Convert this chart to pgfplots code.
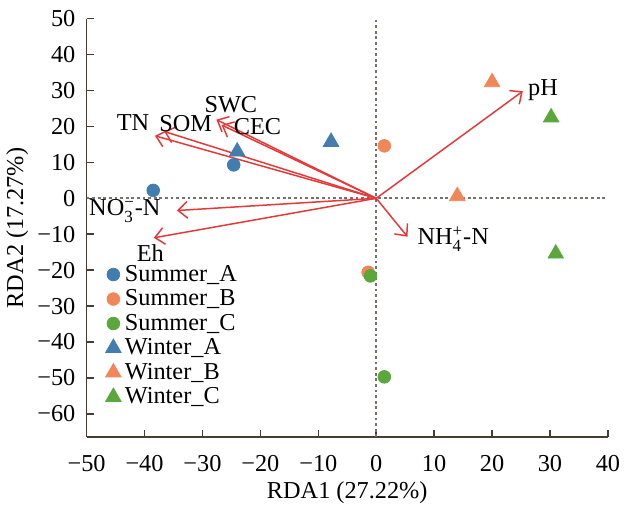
\documentclass[border=0pt]{standalone}
\usepackage{amsmath}
\usepackage{fontspec}
\setmainfont{Liberation Serif}
\usepackage{pgfplots}
\pgfplotsset{compat=1.18}
\usetikzlibrary{arrows.meta}

\definecolor{cblue}{RGB}{66,125,175}
\definecolor{corange}{RGB}{241,134,88}
\definecolor{cgreen}{RGB}{90,168,60}
\definecolor{cred}{RGB}{228,58,58}
\definecolor{cgrid}{RGB}{120,112,105}
\definecolor{caxis}{RGB}{70,60,50}

\begin{document}
\begin{tikzpicture}
\begin{axis}[
    name=ax,
    scale only axis,
    width=279pt, height=224pt,
    xmin=-50, xmax=40,
    ymin=-66.5, ymax=50,
    axis x line*=bottom,
    axis y line*=left,
    axis line style={caxis, line width=0.8pt},
    tick style={caxis, line width=0.8pt},
    tick align=inside,
    major tick length=4pt,
    xtick={-50,-40,...,40},
    xticklabels={−50,−40,−30,−20,−10,0,10,20,30,40},
    ytick={-60,-50,...,50},
    yticklabels={−60,−50,−40,−30,−20,−10,0,10,20,30,40,50},
    tick label style={font=\fontsize{13}{15}\selectfont},
    yticklabel style={xshift=-2.5pt},
    xticklabel style={yshift=-6pt},
    label style={font=\fontsize{13}{15}\selectfont},
    xlabel={RDA1 (27.22\%)},
    ylabel={RDA2 (17.27\%)},
    xlabel style={yshift=1.5pt},
    ylabel style={yshift=-2pt},
    legend style={draw=none, fill=none, at={(0.025,0.43)}, anchor=north west,
        font=\fontsize{13}{13}\selectfont, row sep=-1pt,
        /tikz/every even column/.append style={column sep=2pt}},
    legend cell align=left,
    clip=false,
]
% reference lines
\addplot[cgrid, line width=1pt, dash pattern=on 1.5pt off 1.5pt, forget plot] coordinates {(0,-66.5) (0,50)};
\addplot[cgrid, line width=1pt, dash pattern=on 1.5pt off 1.5pt, forget plot] coordinates {(-50,0) (40,0)};

% environmental vectors
\pgfplotsset{vec/.style={cred, line width=0.8pt, forget plot, -{Straight Barb[length=5pt,width=9pt]}}}
\addplot[vec] coordinates {(0,0) (25.3,29.8)};
\addplot[vec] coordinates {(0,0) (5.4,-10.7)};
\addplot[vec] coordinates {(0,0) (-34.4,-3.4)};
\addplot[vec] coordinates {(0,0) (-38.4,-11.0)};
\addplot[vec] coordinates {(0,0) (-38.2,17.4)};
\addplot[vec] coordinates {(0,0) (-36.6,18.6)};
\addplot[vec] coordinates {(0,0) (-27.6,21.9)};
\addplot[vec] coordinates {(0,0) (-26.7,20.4)};

% samples
\addplot[only marks, mark=*, mark size=3.4pt, cblue, mark options={draw=cblue, fill=cblue}]
    coordinates {(-38.5,2.2) (-24.6,9.3)};
\addlegendentry{Summer\_A}
\addplot[only marks, mark=*, mark size=3.4pt, corange, mark options={draw=corange, fill=corange}]
    coordinates {(1.4,14.6) (-1.4,-20.6)};
\addlegendentry{Summer\_B}
\addplot[only marks, mark=*, mark size=3.4pt, cgreen, mark options={draw=cgreen, fill=cgreen}]
    coordinates {(-1.0,-21.6) (1.4,-49.7)};
\addlegendentry{Summer\_C}
\addplot[only marks, mark=triangle*, mark size=4.8pt, cblue, mark options={draw=cblue, fill=cblue}]
    coordinates {(-24.0,13.0) (-7.8,15.7)};
\addlegendentry{Winter\_A}
\addplot[only marks, mark=triangle*, mark size=4.8pt, corange, mark options={draw=corange, fill=corange}]
    coordinates {(20.0,32.3) (14.0,0.6)};
\addlegendentry{Winter\_B}
\addplot[only marks, mark=triangle*, mark size=4.8pt, cgreen, mark options={draw=cgreen, fill=cgreen}]
    coordinates {(30.2,22.5) (31.0,-15.4)};
\addlegendentry{Winter\_C}

% vector labels
\begin{scope}[every node/.style={font=\fontsize{13}{15}\selectfont, inner sep=0pt}]
\node at (axis cs:28.8,30.2) {pH};
\node at (axis cs:13.3,-11.4) {NH$_{\text{4}}^{\text{+}}$-N};
\node at (axis cs:-43.4,-3.6) {NO$_{\text{3}}^{\text{−}}$-N};
\node at (axis cs:-39.0,-15.3) {Eh};
\node at (axis cs:-42.0,21.0) {TN};
\node at (axis cs:-32.9,20.8) {SOM};
\node at (axis cs:-25.1,26.2) {SWC};
\node at (axis cs:-20.5,19.9) {CEC};
\end{scope}
\end{axis}
% white margin on the right and at the top, as in the reference
\path ([xshift=14.5pt]ax.south east);
\path ([yshift=10pt]ax.north west);
\end{tikzpicture}
\end{document}
